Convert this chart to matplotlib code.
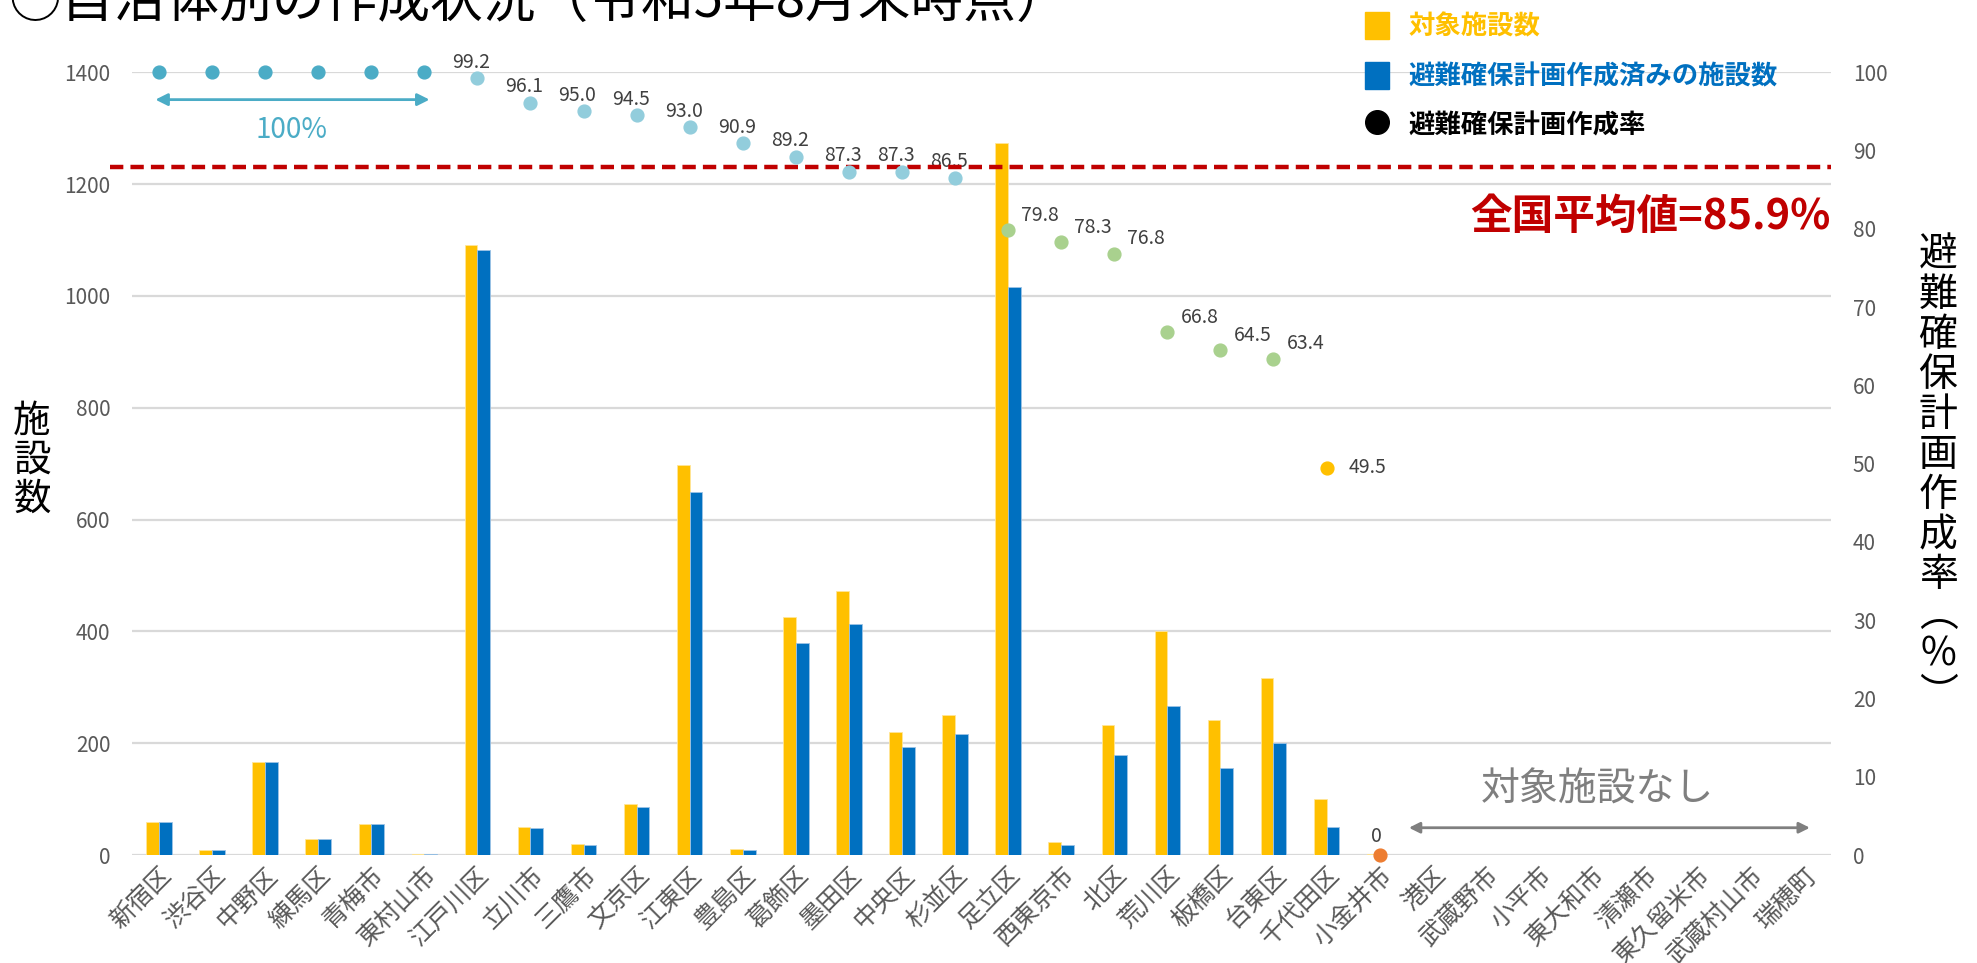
import numpy as np
import matplotlib
matplotlib.use('Agg')
import matplotlib.pyplot as plt
from matplotlib.patches import Patch
from matplotlib.lines import Line2D

plt.rcParams['font.family'] = ['Noto Sans CJK JP', 'DejaVu Sans']

# データ
cities = ['新宿区', '渋谷区', '中野区', '練馬区', '青梅市', '東村山市', '江戸川区', '立川市',
          '三鷹市', '文京区', '江東区', '豊島区', '葛飾区', '墨田区', '中央区', '杉並区',
          '足立区', '西東京市', '北区', '荒川区', '板橋区', '台東区', '千代田区', '小金井市',
          '港区', '武蔵野市', '小平市', '東大和市', '清瀬市', '東久留米市', '武蔵村山市', '瑞穂町']
target = [59, 10, 167, 29, 56, 2, 1091, 51, 20, 91, 698, 11, 425, 473, 221, 251,
          1273, 23, 233, 400, 242, 317, 101, 2]
done = [59, 10, 167, 29, 56, 2, 1082, 49, 19, 86, 649, 10, 379, 413, 193, 217,
        1016, 18, 179, 267, 156, 201, 50, 0]
rate = [100, 100, 100, 100, 100, 100, 99.2, 96.1, 95.0, 94.5, 93.0, 90.9, 89.2, 87.3, 87.3, 86.5,
        79.8, 78.3, 76.8, 66.8, 64.5, 63.4, 49.5, 0]
national_avg = 85.9

C_Y = '#FFC000'
C_B = '#0070C0'
GRAY = '#595959'

fig = plt.figure(figsize=(19.77, 9.63), dpi=100)
ax = fig.add_axes([0.067, 0.112, 0.859, 0.813])
ax2 = ax.twinx()

n = len(cities)
x = np.arange(n)
xb = np.arange(len(target))
w = 0.24
ax.bar(xb - w / 2, target, w, color=C_Y, edgecolor='#FFE699', linewidth=0.6, zorder=3)
ax.bar(xb + w / 2, done, w, color=C_B, edgecolor='#9DC3E6', linewidth=0.6, zorder=3)

ax.set_xlim(-0.5, n - 0.5)
ax.set_ylim(0, 1400)
ax.set_yticks(range(0, 1401, 200))
ax.grid(axis='y', color='#D9D9D9', linewidth=1.6, zorder=0)
ax.set_axisbelow(True)
ax.set_xticks(x)
ax.set_xticklabels(cities, rotation=45, ha='right', va='top', rotation_mode='anchor',
                   fontsize=18, color=GRAY)
ax.tick_params(axis='x', length=0, pad=5)
ax.tick_params(axis='y', length=0, labelsize=15, labelcolor=GRAY, pad=16)
for s in ax.spines.values():
    s.set_visible(False)

ax2.set_ylim(0, 100)
ax2.set_yticks(range(0, 101, 10))
ax2.tick_params(axis='y', length=0, labelsize=15, labelcolor=GRAY, pad=16)
for s in ax2.spines.values():
    s.set_visible(False)

# 作成率の点
def pt_color(r):
    if r >= 100:
        return '#4BACC6'
    if r >= 85.9:
        return '#92CDDC'
    if r >= 60:
        return '#A9D18E'
    if r > 0:
        return '#FFC000'
    return '#ED7D31'

lab_font = dict(fontsize=14, color='#404040')
for i, r in enumerate(rate):
    ax2.scatter(i, r, s=85, color=pt_color(r), zorder=5, clip_on=False)
    if r >= 100:
        continue
    if r >= 85.9:
        ax2.annotate(f'{r:.1f}', (i, r), xytext=(-6, 16), textcoords='offset pixels',
                     ha='center', va='center', **lab_font)
    elif r >= 60:
        ax2.annotate(f'{r:.1f}', (i, r), xytext=(32, 15), textcoords='offset pixels',
                     ha='center', va='center', **lab_font)
    elif r > 0:
        ax2.annotate(f'{r:.1f}', (i, r), xytext=(22, 0), textcoords='offset pixels',
                     ha='left', va='center', **lab_font)
    else:
        ax2.annotate(f'{r:.0f}', (i, r), xytext=(-3, 19), textcoords='offset pixels',
                     ha='center', va='center', **lab_font)

# 全国平均
ax2.axhline(87.9, xmin=-0.013, xmax=1.0, color='#C00000', linewidth=3.2,
            linestyle=(0, (3, 1.6)), zorder=4, clip_on=False)
ax2.text(n - 0.5, 81.5, '全国平均値=85.9%', color='#C00000', fontsize=30,
         fontweight='bold', ha='right', va='center')

# 100%の矢印
ax2.annotate('', xy=(-0.12, 96.5), xytext=(5.15, 96.5),
             arrowprops=dict(arrowstyle='<|-|>', color='#4BACC6', lw=2, mutation_scale=18))
ax2.text(2.5, 92.6, '100%', color='#4BACC6', fontsize=20, ha='center', va='center')

# 対象施設なし
ax2.annotate('', xy=(23.5, 3.5), xytext=(31.16, 3.5),
             arrowprops=dict(arrowstyle='<|-|>', color='#7F7F7F', lw=2, mutation_scale=16))
ax2.text(27.1, 8.4, '対象施設なし', color='#7F7F7F', fontsize=28, ha='center', va='center')

# 軸ラベル
fig.text(32 / 1977, 1 - 460 / 963, '施\n設\n数', fontsize=27, ha='center', va='center',
         linespacing=1.0)
fig.text(1938 / 1977, 1 - 475 / 963, '避\n難\n確\n保\n計\n画\n作\n成\n率\n︵\n%\n︶',
         fontsize=28, ha='center', va='center', linespacing=1.0)

# タイトル（上端で切れている）
fig.text(0.004, 1 - 17 / 963, '○自治体別の作成状況（令和5年8月末時点）', fontsize=38,
         va='baseline', ha='left')

# 凡例
handles = [Patch(color=C_Y), Patch(color=C_B),
           Line2D([], [], marker='o', color='black', linestyle='none', markersize=17)]
labels = ['対象施設数', '避難確保計画作成済みの施設数', '避難確保計画作成率']
fig.legend(handles, labels, loc='upper left', bbox_to_anchor=(1341 / 1977, 1.012),
           frameon=False, labelcolor=[C_Y, C_B, 'black'], handlelength=0.9,
           handleheight=1.2, handletextpad=0.75, labelspacing=0.8,
           prop=dict(size=19, weight='bold'))

fig.savefig('out.png', dpi=100)
